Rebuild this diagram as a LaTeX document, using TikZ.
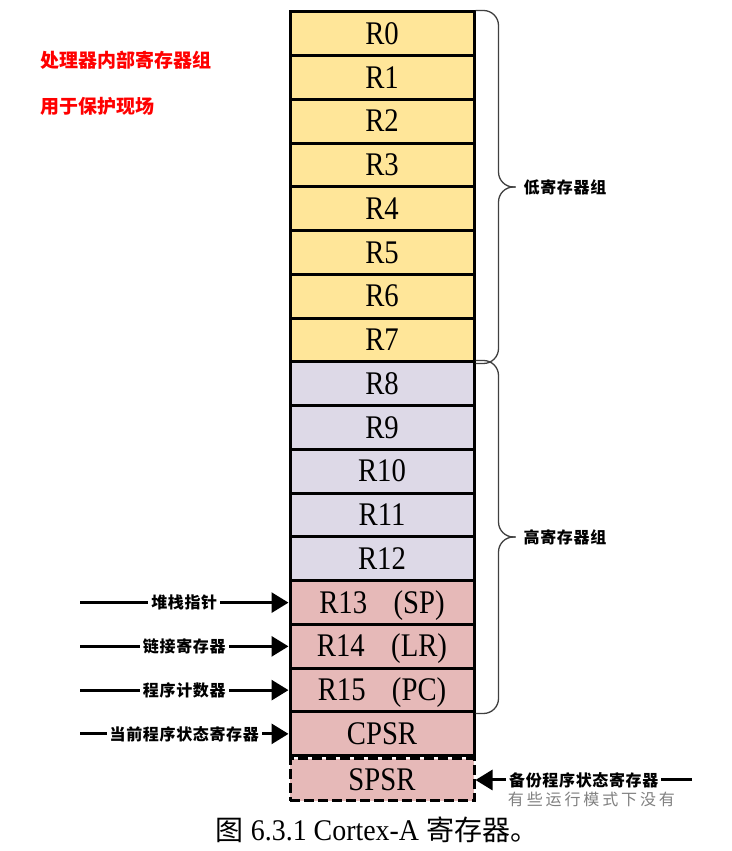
\documentclass[tikz,border=0pt]{standalone}
\usepackage{fontspec}
\setmainfont{Liberation Serif}
\newfontfamily\regfont[FakeStretch=0.87]{Liberation Serif}
\newfontfamily\capfont[FakeStretch=0.93]{Liberation Serif}
\newfontfamily\cjk{Noto Sans CJK SC}
\newfontfamily\cjklab[LetterSpace=4]{Noto Sans CJK SC}
\newfontfamily\cjknote[LetterSpace=18]{Noto Sans CJK SC}
\usetikzlibrary{arrows.meta,positioning,calc}
\definecolor{lowfill}{HTML}{FFE699}
\definecolor{highfill}{HTML}{DDD9E7}
\definecolor{statfill}{HTML}{E6B9B8}
\definecolor{bracegray}{HTML}{404040}
\definecolor{notegray}{HTML}{808080}
\definecolor{titlered}{HTML}{FF0000}

\begin{document}
\begin{tikzpicture}[x=1pt,y=1pt,>=Stealth]
\tikzset{
  reg/.style={draw,line width=3pt,minimum width=184pt,minimum height=43.75pt,
    inner sep=0pt,text height=21pt,text depth=0pt,font=\regfont\fontsize{33}{38}\selectfont},
  regbrace/.style={draw=bracegray,line width=1.3pt,rounded corners=15pt},
  grouplab/.style={inner sep=0pt,font=\cjklab\bfseries\fontsize{16}{19}\selectfont},
  ptr/.style={line width=3pt,-{Triangle[length=17pt,width=20pt]}},
  ptrlab/.style={fill=white,inner sep=3pt,font=\cjklab\bfseries\fontsize{16}{19}\selectfont},
  notelab/.style={inner sep=0pt,text=notegray,font=\cjknote\fontsize{16}{19}\selectfont},
  redlab/.style={inner sep=0pt,text=titlered,font=\cjk\bfseries\fontsize{19}{22}\selectfont}
}
\useasboundingbox (0,0) rectangle (731,851);
% 寄存器列：每格 43.75pt，自上而下
\foreach \i in {0,...,7}
  \node[reg,fill=lowfill] (r\i) at (382,{839-43.75*(\i+0.5)}) {R\i};
\foreach \i in {8,...,12}
  \node[reg,fill=highfill] (r\i) at (382,{839-43.75*(\i+0.5)}) {R\i};
\foreach \i/\nm in {13/SP,14/LR,15/PC}
  \node[reg,fill=statfill] (r\i) at (382,{839-43.75*(\i+0.5)}) {R\i\hspace{0.8em}(\nm)};
\node[reg,fill=statfill] (cpsr) at (382,{839-43.75*16.5}) {CPSR};
\node[reg,fill=statfill,dash pattern=on 10pt off 4pt,minimum height=42pt] (spsr) at (382,71) {SPSR};
% 左上角说明
\node[redlab,anchor=west] (grouptitle) at (40,791) {处理器内部寄存器组};
\node[redlab,anchor=west] (savenote) at (40,745) {用于保护现场};
% 两个花括号，分上下两半画
\coordinate (lowtip) at ($(r0.north east)!.5!(r7.south east)+(40,0)$);
\coordinate (hightip) at ($(r8.north east)!.5!(r15.south east)+(40,0)$);
\draw[regbrace] (r0.north east) -| ([xshift=-17pt]lowtip) -- (lowtip);
\draw[regbrace] (r7.south east) -| ([xshift=-17pt]lowtip) -- (lowtip);
\draw[regbrace] (r8.north east) -| ([xshift=-17pt]hightip) -- (hightip);
\draw[regbrace] (r15.south east) -| ([xshift=-17pt]hightip) -- (hightip);
\node[grouplab,right=8pt of lowtip] (lowlab) {低寄存器组};
\node[grouplab,right=8pt of hightip] (highlab) {高寄存器组};
% 左侧指向箭头
\coordinate (lead) at (80,0);
\draw[ptr] (r13.west -| lead) -- node[ptrlab] (splab) {堆栈指针} (r13.west);
\draw[ptr] (r14.west -| lead) -- node[ptrlab] (lrlab) {链接寄存器} (r14.west);
\draw[ptr] (r15.west -| lead) -- node[ptrlab] (pclab) {程序计数器} (r15.west);
\draw[ptr] (cpsr.west -| lead) -- node[ptrlab] (cpsrlab) {当前程序状态寄存器} (cpsr.west);
% 右侧 SPSR 箭头
\coordinate (tail) at (692,0);
\draw[ptr] (spsr.east -| tail) -- node[ptrlab] (spsrlab) {备份程序状态寄存器} (spsr.east);
\node[notelab,anchor=north west] (spsrnote) at ([xshift=3pt]spsrlab.south west) {有些运行模式下没有};
\node[font=\capfont\fontsize{30}{34}\selectfont] (caption) at (377,21) {{\cjk\fontsize{28}{34}\selectfont 图} 6.3.1 Cortex-A {\cjk\fontsize{28}{34}\selectfont 寄存器。}};
\end{tikzpicture}
\end{document}
